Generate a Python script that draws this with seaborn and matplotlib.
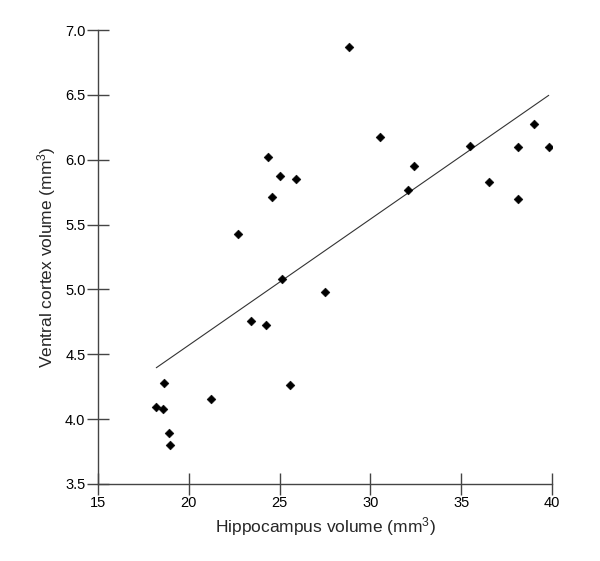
import numpy as np
import pandas as pd
import matplotlib
matplotlib.use("Agg")
import matplotlib.pyplot as plt
import seaborn as sns

# ============================================================
# Data
# ============================================================
hippocampus = [
    24.38, 25.0, 25.9, 24.58, 22.73,
    28.82, 30.55, 32.42, 32.05, 35.48, 36.53, 38.15, 38.15, 38.99, 39.82,
    25.13, 23.41, 24.23, 25.59, 21.22, 18.62, 18.21, 18.6, 18.93, 18.98,
    27.5,
]
ventral_cortex = [
    6.02, 5.874, 5.851, 5.71, 5.425,
    6.87, 6.175, 5.954, 5.766, 6.108, 5.828, 6.095, 5.70, 6.273, 6.095,
    5.08, 4.759, 4.723, 4.265, 4.157, 4.278, 4.093, 4.075, 3.893, 3.798,
    4.978,
]

# fitted line
fit_slope = 0.0972
fit_intercept = 2.626

x_ticks = [15, 20, 25, 30, 35, 40]
y_ticks = [3.5, 4.0, 4.5, 5.0, 5.5, 6.0, 6.5, 7.0]

df = pd.DataFrame({"hippo": hippocampus, "cortex": ventral_cortex})

# ============================================================
# Plot
# ============================================================
sns.set_style("ticks")
plt.rcParams["font.family"] = ["Liberation Sans", "DejaVu Sans"]
plt.rcParams["mathtext.default"] = "regular"

fig = plt.figure(figsize=(6.0, 5.61), dpi=100)
ax = fig.add_axes([0.1633, 0.1373, 0.7567, 0.8092])

sns.scatterplot(
    data=df, x="hippo", y="cortex", marker="D", s=20,
    color="black", edgecolor="black", linewidth=0.4, ax=ax, zorder=3,
)

xs = np.array([df["hippo"].min(), df["hippo"].max()])
ax.plot(xs, fit_intercept + fit_slope * xs, color="#333333", linewidth=0.8)

ax.set_xlim(15, 40)
ax.set_ylim(3.5, 7.0)
ax.set_xticks(x_ticks)
ax.set_yticks(y_ticks)
ax.set_yticklabels([f"{v:.1f}" for v in y_ticks])

sns.despine(ax=ax)
for side in ["left", "bottom"]:
    ax.spines[side].set_color("#444444")
    ax.spines[side].set_linewidth(1.0)
ax.tick_params(axis="both", direction="inout", length=16, width=1.0,
               color="#444444", labelsize=10.5, labelcolor="black", pad=1)

ax.set_xlabel("Hippocampus volume (mm$^3$)", fontsize=12.5, labelpad=3)
ax.set_ylabel("Ventral cortex volume (mm$^3$)", fontsize=12.5, labelpad=5)

fig.savefig("out.png", dpi=100)
